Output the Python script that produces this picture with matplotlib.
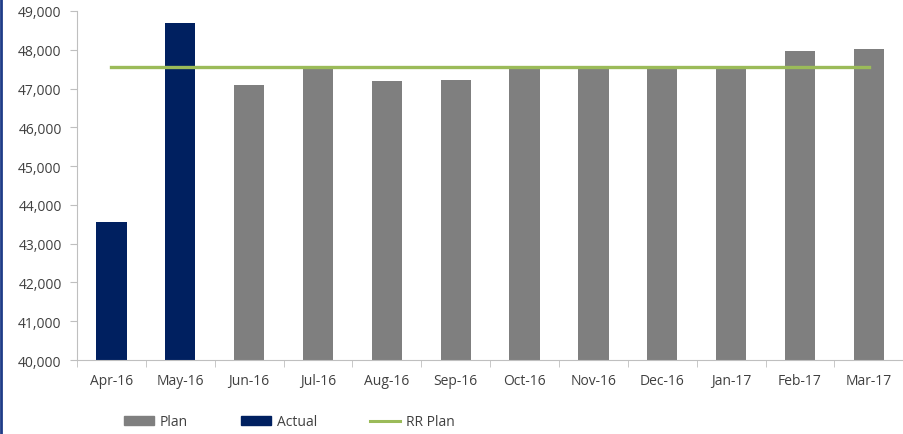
import numpy as np
from matplotlib import pyplot as plt
from matplotlib.lines import Line2D

plt.rcParams['font.family'] = ['Open Sans', 'DejaVu Sans']

months = ['Apr-16', 'May-16', 'Jun-16', 'Jul-16', 'Aug-16', 'Sep-16',
          'Oct-16', 'Nov-16', 'Dec-16', 'Jan-17', 'Feb-17', 'Mar-17']
plan = [np.nan, np.nan, 47100, 47530, 47190, 47225,
        47525, 47530, 47530, 47530, 47970, 48015]
actual = [43560, 48690, np.nan, np.nan, np.nan, np.nan,
          np.nan, np.nan, np.nan, np.nan, np.nan, np.nan]
rr_plan = [47545] * 12

x = np.arange(len(months))

fig = plt.figure(figsize=(9.04, 4.35), dpi=100)
ax = fig.add_axes([0.0852, 0.170, 0.914, 0.8025])

ax.bar(x, plan, width=0.44, color='#7f7f7f', label='Plan', zorder=2)
ax.bar(x, actual, width=0.44, color='#002060', label='Actual', zorder=2)
ax.plot(x, rr_plan, color='#9bbb59', linewidth=2.4, label='RR Plan', zorder=3)

ax.set_xlim(-0.5, len(months) - 0.5)
ax.set_ylim(40000, 49000)
ax.set_yticks(np.arange(40000, 49001, 1000))
ax.yaxis.set_major_formatter(plt.FuncFormatter(lambda v, p: f'{int(v):,}'))

# category labels centred, tick marks between categories
ax.set_xticks(x)
ax.set_xticklabels(months)
ax.set_xticks(np.arange(-0.5, len(months)), minor=True)
ax.tick_params(axis='x', which='major', length=0, pad=9)
ax.tick_params(axis='x', which='minor', length=5, color='#bfbfbf', direction='out')
ax.tick_params(axis='y', length=5, color='#bfbfbf', pad=6)
ax.tick_params(labelsize=10, labelcolor='#404040')

for s in ['top', 'right']:
    ax.spines[s].set_visible(False)
for s in ['left', 'bottom']:
    ax.spines[s].set_color('#bfbfbf')

handles = [plt.Rectangle((0, 0), 1, 1, color='#7f7f7f'),
           plt.Rectangle((0, 0), 1, 1, color='#002060'),
           Line2D([0], [0], color='#9bbb59', linewidth=2.2)]
fig.legend(handles, ['Plan', 'Actual', 'RR Plan'], loc='center left',
           bbox_to_anchor=(0.123, 0.028), ncol=3, frameon=False,
           fontsize=10, labelcolor='#404040', handlelength=2.2,
           handleheight=0.55, columnspacing=3.8, handletextpad=0.4)

# thin blue frame line on the left edge
fig.add_artist(Line2D([0.001, 0.001], [0, 1], color='#1f3c88', linewidth=2,
                      transform=fig.transFigure))

fig.savefig('out.png', dpi=100)
